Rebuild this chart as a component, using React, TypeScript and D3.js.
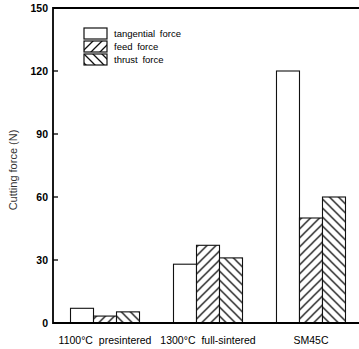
import React from 'react';
import * as d3 from 'd3';

const categories = ['1100°C presintered', '1300°C full-sintered', 'SM45C'];
const seriesNames = ['tangential force', 'feed force', 'thrust force'];
const tangential = [7, 28, 120];
const feed = [3.3, 37, 50];
const thrust = [5.3, 31, 60];
const yTicks = [0, 30, 60, 90, 120, 150];

const width = 359;
const height = 349;
const left = 53;
const top = 8;
const bottom = 323;

const y = d3.scaleLinear().domain([0, 150]).range([bottom, top]);
const x0 = d3
  .scaleBand()
  .domain(categories)
  .range([left, 363])
  .paddingInner(0.33)
  .paddingOuter(0.17);
const x1 = d3.scaleBand().domain(seriesNames).range([0, x0.bandwidth()]);

const values = [tangential, feed, thrust];
const fills = ['#fff', 'url(#hatchFeed)', 'url(#hatchThrust)'];
const font = 'Arial, "Liberation Sans", Helvetica, sans-serif';

export default function App() {
  return (
    <svg
      width={width}
      height={height}
      style={{ position: 'absolute', left: 0, top: 0, background: '#fff' }}
    >
      <defs>
        {/* feed force: lines going up to the right */}
        <pattern id="hatchFeed" patternUnits="userSpaceOnUse" width={9} height={9}>
          <rect width={9} height={9} fill="#fff" />
          <path d="M-2,2 L2,-2 M0,9 L9,0 M7,11 L11,7" stroke="#111" strokeWidth={1.3} />
        </pattern>
        {/* thrust force: lines going down to the right */}
        <pattern id="hatchThrust" patternUnits="userSpaceOnUse" width={9} height={9}>
          <rect width={9} height={9} fill="#fff" />
          <path d="M-2,7 L2,11 M0,0 L9,9 M7,-2 L11,2" stroke="#111" strokeWidth={1.3} />
        </pattern>
      </defs>

      {/* bars */}
      {categories.map((c, i) => (
        <g key={c} transform={`translate(${x0(c)},0)`}>
          {seriesNames.map((s, j) => (
            <rect
              key={s}
              x={x1(s)}
              y={y(values[j][i])}
              width={x1.bandwidth()}
              height={bottom - y(values[j][i])}
              fill={fills[j]}
              stroke="#111"
              strokeWidth={1.1}
            />
          ))}
        </g>
      ))}

      {/* frame lines */}
      <line x1={left} x2={left} y1={top - 1} y2={bottom + 1} stroke="#000" strokeWidth={1.8} />
      <line x1={left} x2={width} y1={top} y2={top} stroke="#000" strokeWidth={1.8} />
      <line x1={left} x2={width} y1={bottom} y2={bottom} stroke="#000" strokeWidth={1.8} />

      {/* y ticks */}
      {yTicks.map(t => (
        <g key={t}>
          <line x1={left} x2={left + 5} y1={y(t)} y2={y(t)} stroke="#000" strokeWidth={1.3} />
          <text
            x={left - 5}
            y={y(t)}
            dy="0.35em"
            textAnchor="end"
            fontFamily={font}
            fontSize={10.5}
            fontWeight="bold"
          >
            {t}
          </text>
        </g>
      ))}

      <text
        transform={`translate(17,170) rotate(-90)`}
        textAnchor="middle"
        fontFamily={font}
        fontSize={11}
        fill="#333"
      >
        Cutting force (N)
      </text>

      {/* x labels */}
      {categories.map(c => (
        <text
          key={c}
          x={x0(c) + x0.bandwidth() / 2}
          y={344}
          textAnchor="middle"
          fontFamily={font}
          fontSize={10.5}
          wordSpacing={3}
        >
          {c}
        </text>
      ))}

      {/* legend */}
      {seriesNames.map((s, j) => (
        <g key={s} transform={`translate(84,${28 + j * 13})`}>
          <rect width={23} height={11} fill={fills[j]} stroke="#111" strokeWidth={1.2} />
          <text x={30} y={9} fontFamily={font} fontSize={9.5} wordSpacing={2}>
            {s}
          </text>
        </g>
      ))}
    </svg>
  );
}
